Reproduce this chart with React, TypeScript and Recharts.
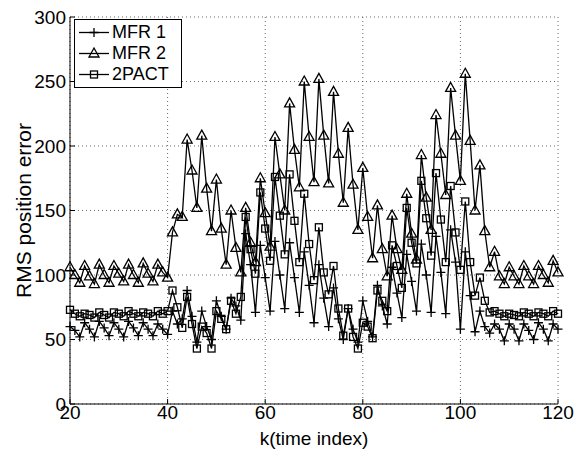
import { LineChart, Line, XAxis, YAxis, CartesianGrid, Legend } from 'recharts';

const K_START = 20;
const X_TICKS = [20, 40, 60, 80, 100, 120];
const Y_TICKS = [0, 50, 100, 150, 200, 250, 300];

// values, k = 20..120
const MFR1 = [
  60, 57, 52, 63, 58, 52, 64, 59, 53, 63, 58, 52, 64, 59, 53, 63, 58, 53, 62, 58, 54,
  72, 62, 66, 88, 68, 48, 72, 60, 50, 80, 68, 58, 82, 76, 65, 132, 108, 71, 123,
  98, 72, 126, 100, 74, 125, 98, 71, 118, 92, 63, 108, 82, 60, 90, 66, 50, 74, 58, 48,
  80, 64, 52, 92, 76, 62, 106, 86, 67, 116, 95, 72, 124, 100, 71, 130, 102, 70, 135, 110,
  58, 118, 84, 56, 72, 60, 55, 62, 58, 49, 62, 58, 49, 62, 57, 50, 63, 58, 49, 62, 58,
];
const MFR2 = [
  106, 100, 94, 107, 99, 93, 108, 100, 94, 107, 101, 95, 108, 100, 94, 109, 101, 95, 108, 102, 98,
  133, 147, 145, 205, 181, 152, 208, 167, 134, 174, 136, 108, 150, 121, 102, 152, 125, 110, 175,
  148, 122, 207, 178, 150, 233, 197, 168, 250, 207, 172, 252, 208, 171, 242, 194, 156, 214, 170, 135,
  183, 145, 113, 154, 120, 99, 146, 120, 104, 163, 132, 112, 193, 160, 135, 224, 194, 162, 245, 208,
  173, 256, 204, 150, 185, 134, 106, 118, 99, 93, 106, 99, 93, 107, 99, 93, 107, 100, 94, 111, 102,
];
const PACT2 = [
  73, 70, 68, 70, 69, 67, 71, 69, 67, 71, 70, 68, 72, 70, 68, 71, 70, 68, 72, 70, 72,
  88, 75, 59, 83, 62, 43, 60, 55, 43, 72, 66, 58, 80, 70, 83, 145, 120, 101, 164,
  136, 111, 176, 146, 116, 178, 142, 110, 163, 124, 96, 137, 102, 85, 107, 74, 53, 74, 52, 43,
  63, 60, 51, 88, 80, 72, 123, 107, 90, 152, 125, 109, 173, 144, 115, 179, 143, 110, 169, 133,
  104, 157, 110, 84, 98, 80, 71, 72, 70, 68, 70, 69, 68, 71, 70, 68, 71, 70, 68, 72, 70,
];

const SERIES = [
  { key: 'mfr1', name: 'MFR 1', shape: 'plus' },
  { key: 'mfr2', name: 'MFR 2', shape: 'triangle' },
  { key: 'pact', name: '2PACT', shape: 'square' },
];

const data = MFR1.map((v, i) => ({ k: K_START + i, mfr1: v, mfr2: MFR2[i], pact: PACT2[i] }));

const FONT = '"Liberation Sans", Arial, Helvetica, sans-serif';
const INK = '#000';

function Marker({ shape, cx, cy }: { shape: string; cx: number; cy: number }) {
  if (shape === 'plus') {
    return (
      <path
        d={`M${cx - 4.5},${cy}H${cx + 4.5}M${cx},${cy - 4.5}V${cy + 4.5}`}
        stroke={INK}
        strokeWidth={1.3}
        fill="none"
      />
    );
  }
  if (shape === 'triangle') {
    return (
      <path
        d={`M${cx},${cy - 5.5}L${cx + 5},${cy + 3.5}L${cx - 5},${cy + 3.5}Z`}
        stroke={INK}
        strokeWidth={1.3}
        fill="none"
      />
    );
  }
  return <rect x={cx - 3.5} y={cy - 3.5} width={7} height={7} stroke={INK} strokeWidth={1.3} fill="none" />;
}

const renderLegend = () => (
  <div
    style={{
      border: '1px solid #000',
      background: '#fff',
      padding: '2px 12px 2px 3px',
      fontFamily: FONT,
      fontSize: 18,
      lineHeight: '21px',
      color: INK,
    }}
  >
    {SERIES.map((s) => (
      <div key={s.key} style={{ display: 'flex', alignItems: 'center', height: 21 }}>
        <svg width={32} height={21} style={{ display: 'block' }}>
          <line x1={1} x2={31} y1={10.5} y2={10.5} stroke={INK} strokeWidth={1.3} />
          <Marker shape={s.shape} cx={16} cy={10.5} />
        </svg>
        <span style={{ marginLeft: 2 }}>{s.name}</span>
      </div>
    ))}
  </div>
);

const tickStyle = { fontSize: 19, fill: INK, fontFamily: FONT };

export default function App() {
  return (
    <div style={{ position: 'absolute', left: 0, top: 0, width: 588, height: 451, background: '#fff' }}>
      <LineChart width={588} height={451} data={data} margin={{ top: 17, right: 30, bottom: 0, left: 10 }}>
        <CartesianGrid stroke="#444" strokeDasharray="1 3" strokeWidth={0.8} />
        <XAxis
          dataKey="k"
          type="number"
          domain={[20, 120]}
          ticks={X_TICKS}
          height={47}
          tickSize={-5}
          tickMargin={7}
          tick={tickStyle}
          axisLine={{ stroke: INK }}
          tickLine={{ stroke: INK }}
          label={{ value: 'k(time index)', position: 'insideBottom', offset: 6, style: { ...tickStyle } }}
        />
        <XAxis
          xAxisId="top"
          orientation="top"
          type="number"
          domain={[20, 120]}
          ticks={X_TICKS}
          height={0}
          tickSize={-5}
          tick={false}
          axisLine={{ stroke: INK }}
          tickLine={{ stroke: INK }}
        />
        <YAxis
          type="number"
          domain={[0, 300]}
          ticks={Y_TICKS}
          width={60}
          tickSize={-5}
          tickMargin={9}
          tick={tickStyle}
          axisLine={{ stroke: INK }}
          tickLine={{ stroke: INK }}
          label={{
            value: 'RMS position error',
            angle: -90,
            position: 'center',
            dx: -16,
            style: { ...tickStyle, fontSize: 21 },
          }}
        />
        <YAxis
          yAxisId="right"
          orientation="right"
          type="number"
          domain={[0, 300]}
          ticks={Y_TICKS}
          width={0}
          tickSize={-5}
          tick={false}
          axisLine={{ stroke: INK }}
          tickLine={{ stroke: INK }}
        />
        <Legend
          layout="vertical"
          align="center"
          verticalAlign="middle"
          content={renderLegend}
          wrapperStyle={{ left: 74, top: 19, width: 'auto', height: 'auto' }}
        />
        {SERIES.map((s) => (
          <Line
            key={s.key}
            type="linear"
            dataKey={s.key}
            name={s.name}
            stroke={INK}
            strokeWidth={1.3}
            isAnimationActive={false}
            dot={(p: any) => <Marker key={`${s.key}-${p.index}`} shape={s.shape} cx={p.cx} cy={p.cy} />}
            activeDot={false}
          />
        ))}
      </LineChart>
    </div>
  );
}
